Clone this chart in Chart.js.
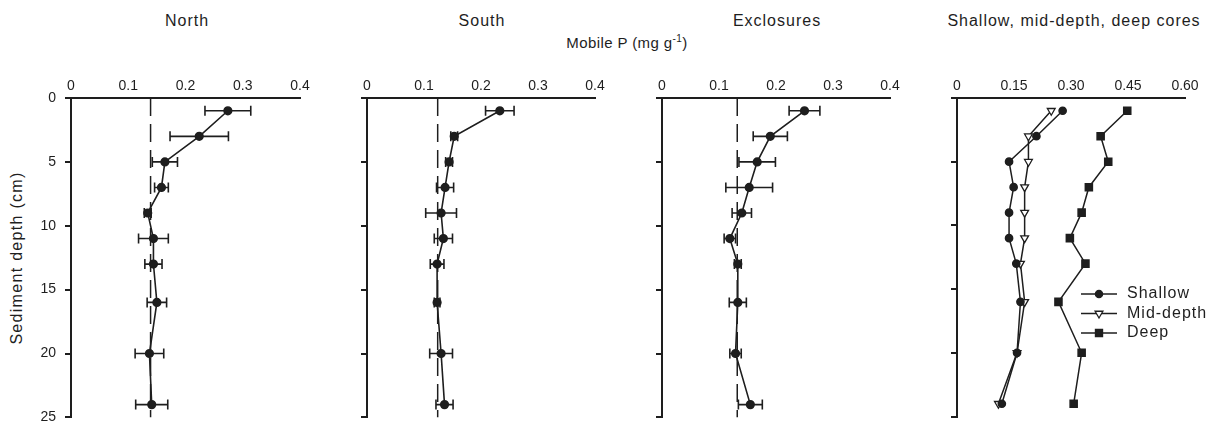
<!DOCTYPE html>
<html>
<head>
<meta charset="utf-8">
<script src="https://cdn.jsdelivr.net/npm/chart.js@4.4.0/dist/chart.umd.min.js"></script>
<style>
  body { margin:0; background:#fff; width:1213px; height:423px; position:relative; overflow:hidden;
         font-family:'Liberation Sans', Arial, sans-serif; color:#1e1e1e; }
  .box { position:absolute; top:0; height:423px; }
  .ttl { position:absolute; top:13px; font-size:16px; line-height:16px; letter-spacing:1px;
         transform:translateX(-50%); white-space:nowrap; }
  .xlab { position:absolute; top:35px; left:627px; font-size:15px; line-height:15px; letter-spacing:0.4px;
          transform:translateX(-50%); white-space:nowrap; }
  .xlab sup { font-size:10px; line-height:0; }
  .ylab { position:absolute; left:17px; top:258px; font-size:16px; line-height:16px; letter-spacing:1.3px;
          transform:translate(-50%,-50%) rotate(-90deg); white-space:nowrap; }
</style>
</head>
<body>
<div class="ttl" style="left:187px">North</div>
<div class="ttl" style="left:482px">South</div>
<div class="ttl" style="left:777px">Exclosures</div>
<div class="ttl" style="left:1074px">Shallow, mid-depth, deep cores</div>
<div class="xlab">Mobile P (mg g<sup>-1</sup>)</div>
<div class="ylab">Sediment depth (cm)</div>

<div class="box" style="left:0;width:310px"><canvas id="north"></canvas></div>
<div class="box" style="left:310px;width:295px"><canvas id="south"></canvas></div>
<div class="box" style="left:605px;width:295px"><canvas id="excl"></canvas></div>
<div class="box" style="left:900px;width:313px"><canvas id="cores"></canvas></div>

<script>
// depth of each sample (cm)
const depth = [1, 3, 5, 7, 9, 11, 13, 16, 20, 24];
const yTicks = ['0', '5', '10', '15', '20', '25'];
const xTicksSite = ['0', '0.1', '0.2', '0.3', '0.4'];
const xTicksCores = ['0', '0.15', '0.30', '0.45', '0.60'];

// mobile P, mean and error, per site
const northP  = [0.274, 0.224, 0.164, 0.158, 0.134, 0.144, 0.144, 0.150, 0.137, 0.141];
const northSE = [0.040, 0.051, 0.022, 0.012, 0.006, 0.026, 0.015, 0.017, 0.025, 0.028];
const northRef = 0.139;

const southP  = [0.233, 0.153, 0.144, 0.137, 0.130, 0.134, 0.123, 0.123, 0.130, 0.136];
const southSE = [0.025, 0.006, 0.006, 0.015, 0.027, 0.016, 0.012, 0.005, 0.020, 0.015];
const southRef = 0.124;

const exclP  = [0.250, 0.190, 0.167, 0.153, 0.140, 0.119, 0.133, 0.133, 0.129, 0.155];
const exclSE = [0.027, 0.030, 0.032, 0.041, 0.017, 0.010, 0.006, 0.015, 0.010, 0.021];
const exclRef = 0.132;

// cores
const shallowP = [0.278, 0.209, 0.137, 0.149, 0.137, 0.137, 0.156, 0.167, 0.158, 0.118];
const midP     = [0.248, 0.188, 0.188, 0.178, 0.178, 0.178, 0.167, 0.178, 0.158, 0.109];
const deepP    = [0.448, 0.378, 0.398, 0.347, 0.328, 0.297, 0.338, 0.267, 0.328, 0.307];

const ink = '#1e1e1e';
Chart.defaults.font.family = "'Liberation Sans', Arial, sans-serif";
Chart.defaults.font.size = 14;
Chart.defaults.color = ink;

const pts = vals => vals.map((v, i) => ({x: v, y: depth[i]}));

// horizontal error bars with caps
const errorBars = {
  id: 'errorBars',
  beforeDatasetsDraw(chart) {
    const ctx = chart.ctx, xs = chart.scales.x, ys = chart.scales.y;
    chart.data.datasets.forEach(ds => {
      if (!ds.errX) return;
      ctx.save();
      ctx.strokeStyle = ink;
      ctx.lineWidth = 1.6;
      ds.data.forEach((p, i) => {
        const y = ys.getPixelForValue(p.y);
        const x1 = xs.getPixelForValue(p.x - ds.errX[i]);
        const x2 = xs.getPixelForValue(p.x + ds.errX[i]);
        ctx.beginPath();
        ctx.moveTo(x1, y); ctx.lineTo(x2, y);
        ctx.moveTo(x1, y - 5); ctx.lineTo(x1, y + 5);
        ctx.moveTo(x2, y - 5); ctx.lineTo(x2, y + 5);
        ctx.stroke();
      });
      ctx.restore();
    });
  }
};

// legend inside the cores panel
const coreLegend = {
  id: 'coreLegend',
  afterDraw(chart, args, opts) {
    if (!opts.show) return;
    const ctx = chart.ctx, a = chart.chartArea;
    ctx.save();
    ctx.font = "16px 'Liberation Sans', Arial, sans-serif";
    ctx.letterSpacing = '1px';
    ctx.textBaseline = 'middle';
    chart.data.datasets.forEach((ds, i) => {
      const y = a.top + 196 + i * 19.5;
      const x0 = a.left + 124;
      ctx.strokeStyle = ink;
      ctx.lineWidth = 1.5;
      ctx.beginPath(); ctx.moveTo(x0, y); ctx.lineTo(x0 + 36, y); ctx.stroke();
      ctx.fillStyle = ds.pointBackgroundColor;
      ctx.strokeStyle = ink;
      ctx.lineWidth = 1.3;
      Chart.helpers.drawPoint(ctx, {pointStyle: ds.pointStyle, rotation: ds.pointRotation || 0,
        radius: ds.pointRadius, borderWidth: 1.3}, x0 + 18, y);
      ctx.fillStyle = ink;
      ctx.fillText(ds.label, x0 + 46, y);
    });
    ctx.restore();
  }
};

function zeroPad(s) {
  s.paddingLeft = 0; s.paddingRight = 0; s.paddingTop = 0; s.paddingBottom = 0;
}

function makePanel(id, yw, padRight, showY, xMax, xStep, xLabels, datasets, legend) {
  return new Chart(document.getElementById(id), {
    type: 'scatter',
    data: { datasets: datasets },
    options: {
      responsive: true,
      maintainAspectRatio: false,
      animation: false,
      events: [],
      layout: { padding: { left: 0, top: 0, right: padRight, bottom: 5 } },
      plugins: {
        legend: { display: false },
        tooltip: { enabled: false },
        coreLegend: { show: legend }
      },
      scales: {
        x: {
          type: 'linear', position: 'top', min: 0, max: xMax,
          ticks: { stepSize: xStep, padding: 3, callback: v => xLabels[Math.round(v / xStep)] },
          grid: { display: false, drawTicks: false },
          border: { color: ink, width: 2 },
          afterFit: s => { s.height = 98; zeroPad(s); }
        },
        y: {
          type: 'linear', reverse: true, min: 0, max: 25,
          ticks: { stepSize: 5, display: showY, padding: 9, callback: v => yTicks[Math.round(v / 5)] },
          grid: { drawOnChartArea: false, tickLength: 6, color: ink, lineWidth: 2 },
          border: { color: ink, width: 2 },
          afterFit: s => { s.width = yw; zeroPad(s); }
        }
      }
    },
    plugins: [errorBars, coreLegend]
  });
}

function siteSets(vals, errs, ref) {
  return [{
    label: 'mean',
    data: pts(vals),
    errX: errs,
    showLine: true,
    borderColor: ink,
    borderWidth: 1.6,
    pointRadius: 3.8,
    pointBackgroundColor: ink,
    pointBorderColor: ink
  }, {
    label: 'reference',
    data: [{x: ref, y: 0}, {x: ref, y: 25}],
    showLine: true,
    borderColor: ink,
    borderWidth: 1.5,
    borderDash: [18, 8],
    pointRadius: 0
  }];
}

makePanel('north', 71, 10, true, 0.4, 0.1, xTicksSite, siteSets(northP, northSE, northRef), false);
makePanel('south', 57, 10, false, 0.4, 0.1, xTicksSite, siteSets(southP, southSE, southRef), false);
makePanel('excl', 57, 10, false, 0.4, 0.1, xTicksSite, siteSets(exclP, exclSE, exclRef), false);

makePanel('cores', 57, 28, false, 0.6, 0.15, xTicksCores, [
  { label: 'Shallow', data: pts(shallowP), showLine: true, borderColor: ink, borderWidth: 1.5,
    pointStyle: 'circle', pointRadius: 3.6, pointBackgroundColor: ink, pointBorderColor: ink },
  { label: 'Mid-depth', data: pts(midP), showLine: true, borderColor: ink, borderWidth: 1.5,
    pointStyle: 'triangle', pointRotation: 180, pointRadius: 4.5, pointBorderWidth: 1.3,
    pointBackgroundColor: '#fff', pointBorderColor: ink },
  { label: 'Deep', data: pts(deepP), showLine: true, borderColor: ink, borderWidth: 1.5,
    pointStyle: 'rect', pointRadius: 5, pointBackgroundColor: ink, pointBorderColor: ink }
], true);
</script>
</body>
</html>
